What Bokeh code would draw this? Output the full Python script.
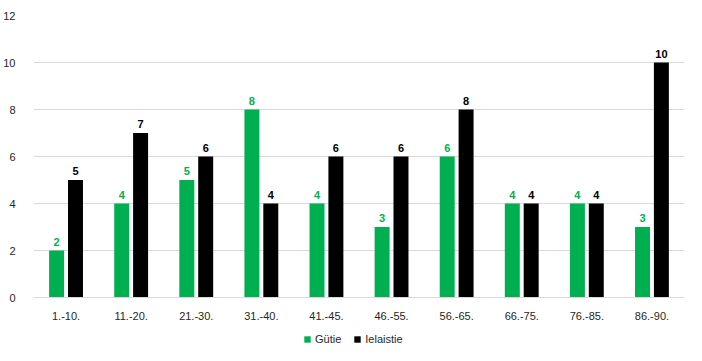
from bokeh.plotting import figure
from bokeh.models import ColumnDataSource, FactorRange, Legend, LegendItem, FixedTicker, LabelSet
from bokeh.layouts import column
from bokeh.transform import dodge
from bokeh.core.properties import value
from bokeh.embed import file_html
from bokeh.resources import INLINE

categories = ["1.-10.", "11.-20.", "21.-30.", "31.-40.", "41.-45.", "46.-55.", "56.-65.", "66.-75.", "76.-85.", "86.-90."]
gutie = [2, 4, 5, 8, 4, 3, 6, 4, 4, 3]
ielaistie = [5, 7, 6, 4, 6, 6, 8, 4, 4, 10]
y_ticks = [0, 2, 4, 6, 8, 10, 12]
series_names = ["Gütie", "Ielaistie"]
series_colors = ["#00B050", "#000000"]

src = ColumnDataSource(data=dict(cat=categories, g=gutie, i=ielaistie,
                                 gl=[str(v) for v in gutie], il=[str(v) for v in ielaistie]))

FONT = "Liberation Sans"
p = figure(x_range=FactorRange(*categories, range_padding=0), y_range=(0, 12),
           width=686, height=322, output_backend="svg", toolbar_location=None,
           min_border_left=32, min_border_right=2, min_border_top=15, min_border_bottom=24)
p.outline_line_color = None

p.vbar(x=dodge("cat", -0.145, range=p.x_range), top="g", width=0.23, source=src,
       fill_color=series_colors[0], line_color=None)
p.vbar(x=dodge("cat", 0.145, range=p.x_range), top="i", width=0.23, source=src,
       fill_color=series_colors[1], line_color=None)

p.add_layout(LabelSet(x=dodge("cat", -0.145, range=p.x_range), y="g", text="gl", source=src,
                      text_align="center", text_baseline="bottom", y_offset=5,
                      text_font=value(FONT), text_font_style="bold", text_font_size="11px",
                      text_color=series_colors[0]))
p.add_layout(LabelSet(x=dodge("cat", 0.145, range=p.x_range), y="i", text="il", source=src,
                      text_align="center", text_baseline="bottom", y_offset=5,
                      text_font=value(FONT), text_font_style="bold", text_font_size="11px",
                      text_color=series_colors[1]))

p.xgrid.grid_line_color = None
p.ygrid.grid_line_color = "#d9d9d9"
p.yaxis.ticker = FixedTicker(ticks=y_ticks)
for ax in (p.xaxis, p.yaxis):
    ax.axis_line_color = None
    ax.major_tick_line_color = None
    ax.minor_tick_line_color = None
    ax.major_label_text_font = FONT
    ax.major_label_text_font_size = "11px"
    ax.major_label_text_color = "#262626"
p.xaxis.axis_line_color = "#d9d9d9"
p.xaxis.major_label_standoff = 8
p.yaxis.major_label_standoff = 12

# legend strip below the chart
lf = figure(width=686, height=23, output_backend="svg", toolbar_location=None,
            x_range=(0, 1), y_range=(0, 1), min_border=0)
lf.axis.visible = False
lf.grid.visible = False
lf.outline_line_color = None
items = []
for name, col in zip(series_names, series_colors):
    r = lf.vbar(x=[-1], top=[-1], width=0.1, fill_color=col, line_color=None)
    items.append(LegendItem(label=name, renderers=[r]))
legend = Legend(items=items, orientation="horizontal", location=(270, 0), label_text_font=FONT,
                label_text_font_size="11px", label_text_color="#262626",
                glyph_width=8, glyph_height=8, spacing=12, label_standoff=4,
                border_line_color=None, background_fill_alpha=0, padding=2, margin=0)
lf.add_layout(legend, "center")

layout = column(p, lf, spacing=0)
open("out.html", "w").write(file_html(layout, INLINE))
